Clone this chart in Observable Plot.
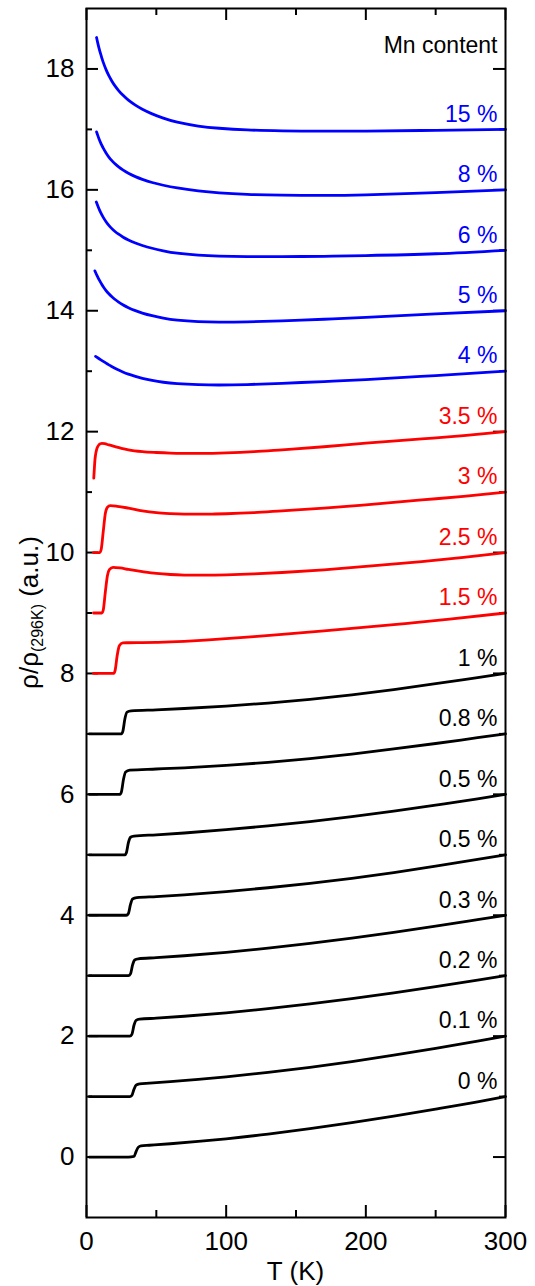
<!DOCTYPE html>
<html>
<head>
<meta charset="utf-8">
<script src="https://cdn.jsdelivr.net/npm/d3@7"></script>
<script src="https://cdn.jsdelivr.net/npm/@observablehq/plot@0.6"></script>
<style>
  html, body { margin: 0; padding: 0; background: #fff; }
  #chart svg { display: block; }
</style>
</head>
<body>
<div id="chart"></div>
<script>
// Normalised resistivity ρ(T)/ρ(296 K) for each Mn content, as [T (K), ρ/ρ296] pairs.
// Curves are stacked with an integer offset so they can be read separately.
const mn0 = [[2,0],[30,0],[34,0.01],[35.5,0.09],[37,0.16],[39,0.185],[45,0.195],[60,0.22],[80,0.258],[100,0.302],[130,0.38],[160,0.47],[190,0.57],[220,0.678],[250,0.792],[280,0.912],[300,1.0]];
const mn01 = [[2,0],[31,0],[32.5,0.02],[34,0.12],[35.5,0.19],[38,0.21],[45,0.222],[60,0.248],[80,0.286],[100,0.328],[130,0.40],[160,0.484],[190,0.58],[220,0.685],[250,0.799],[280,0.919],[300,1.0]];
const mn02 = [[2,0],[31,0],[32.5,0.03],[34,0.18],[35.5,0.26],[38,0.28],[50,0.297],[70,0.329],[100,0.386],[130,0.455],[160,0.533],[190,0.62],[220,0.716],[250,0.818],[280,0.926],[300,1.0]];
const mn03 = [[2,0],[30,0],[31.5,0.03],[33,0.18],[34.5,0.26],[37,0.28],[50,0.298],[70,0.33],[100,0.387],[130,0.456],[160,0.534],[190,0.621],[220,0.717],[250,0.819],[280,0.927],[300,1.0]];
const mn05a = [[2,0],[28.5,0],[30,0.03],[31.5,0.18],[33,0.27],[36,0.29],[50,0.308],[70,0.338],[100,0.392],[130,0.455],[160,0.527],[190,0.611],[220,0.707],[250,0.812],[280,0.923],[300,1.0]];
const mn05b = [[2,0],[27.5,0],[28.5,0.03],[30,0.2],[31.5,0.29],[34,0.31],[50,0.331],[70,0.361],[100,0.415],[130,0.478],[160,0.55],[190,0.631],[220,0.724],[250,0.823],[280,0.925],[300,1.0]];
const mn08 = [[2,0],[24,0],[25,0.04],[26.5,0.25],[28,0.37],[31,0.40],[50,0.419],[70,0.439],[100,0.478],[130,0.529],[160,0.592],[190,0.667],[220,0.751],[250,0.841],[280,0.937],[300,1.0]];
const mn1 = [[2,0],[25,0],[26,0.04],[27.5,0.25],[29,0.36],[32,0.38],[50,0.398],[70,0.42],[100,0.46],[130,0.51],[160,0.572],[190,0.647],[220,0.734],[250,0.83],[280,0.932],[300,1.0]];
const mn15 = [[5,0],[19.5,0],[20.5,0.05],[22,0.3],[23.5,0.46],[26,0.505],[30,0.508],[40,0.511],[50,0.515],[60,0.522],[70,0.532],[85,0.552],[100,0.576],[120,0.61],[140,0.646],[170,0.704],[200,0.765],[230,0.83],[260,0.898],[300,1.0]];
const mn25 = [[5,0],[11,0],[12,0.05],[13.5,0.35],[15,0.62],[16.5,0.72],[19,0.755],[24,0.745],[30,0.72],[40,0.685],[50,0.655],[60,0.637],[70,0.628],[80,0.625],[90,0.627],[100,0.632],[120,0.647],[140,0.67],[170,0.715],[200,0.77],[240,0.85],[270,0.92],[300,1.0]];
const mn3 = [[5,0],[9.5,0],[10.5,0.05],[12,0.35],[13.5,0.65],[15,0.75],[17,0.775],[22,0.765],[30,0.735],[40,0.69],[50,0.66],[60,0.645],[70,0.637],[80,0.635],[90,0.637],[100,0.642],[120,0.66],[140,0.69],[170,0.735],[200,0.79],[240,0.87],[270,0.93],[300,1.0]];
const mn35 = [[5.2,0.23],[5.6,0.38],[6,0.52],[6.5,0.62],[7.2,0.70],[8,0.75],[9,0.785],[10,0.80],[11,0.805],[13,0.80],[16,0.78],[20,0.755],[25,0.725],[30,0.70],[40,0.67],[50,0.655],[60,0.645],[70,0.641],[80,0.64],[90,0.642],[100,0.648],[120,0.668],[140,0.70],[170,0.75],[200,0.81],[240,0.88],[270,0.935],[300,1.0]];
const mn4 = [[6.5,1.245],[8,1.222],[10,1.192],[12,1.162],[14,1.133],[16,1.105],[18,1.078],[20,1.053],[23,1.019],[26,0.988],[30,0.952],[35,0.914],[40,0.882],[47,0.847],[55,0.817],[65,0.795],[80,0.778],[95,0.772],[115,0.779],[140,0.80],[170,0.829],[200,0.862],[250,0.928],[300,1.0]];
const mn5 = [[6,1.66],[7,1.608],[8,1.56],[9,1.515],[10,1.473],[11,1.434],[12,1.398],[14,1.334],[16,1.28],[18,1.234],[20,1.194],[23,1.143],[26,1.10],[30,1.051],[35,1.002],[40,0.962],[47,0.918],[55,0.879],[65,0.846],[80,0.821],[95,0.813],[115,0.817],[140,0.832],[170,0.859],[200,0.892],[250,0.947],[300,1.0]];
const mn6 = [[7,1.80],[8,1.74],[9,1.684],[10,1.633],[11,1.587],[12,1.545],[14,1.473],[16,1.413],[18,1.363],[20,1.32],[23,1.266],[26,1.221],[30,1.171],[35,1.121],[40,1.08],[47,1.034],[55,0.992],[65,0.952],[80,0.919],[95,0.903],[115,0.895],[140,0.895],[170,0.901],[200,0.913],[250,0.943],[300,1.0]];
const mn8 = [[7.2,1.96],[8,1.905],[9,1.842],[10,1.786],[11,1.735],[12,1.689],[14,1.609],[16,1.543],[18,1.487],[20,1.439],[23,1.379],[26,1.33],[30,1.274],[35,1.219],[40,1.174],[47,1.122],[55,1.076],[65,1.031],[80,0.982],[95,0.949],[115,0.925],[140,0.912],[170,0.909],[200,0.918],[250,0.953],[300,1.0]];
const mn15pct = [[7.2,2.52],[8,2.436],[9,2.341],[10,2.256],[11,2.179],[12,2.109],[14,1.989],[16,1.889],[18,1.805],[20,1.733],[23,1.643],[26,1.568],[30,1.484],[35,1.402],[40,1.334],[47,1.257],[55,1.187],[65,1.119],[80,1.056],[95,1.019],[115,0.991],[140,0.976],[170,0.970],[200,0.973],[250,0.985],[300,1.0]];

// Series order (bottom to top), their labels, vertical offsets and colours
const series = [mn0, mn01, mn02, mn03, mn05a, mn05b, mn08, mn1, mn15, mn25, mn3, mn35, mn4, mn5, mn6, mn8, mn15pct];
const labels = ["0 %", "0.1 %", "0.2 %", "0.3 %", "0.5 %", "0.5 %", "0.8 %", "1 %", "1.5 %", "2.5 %", "3 %", "3.5 %", "4 %", "5 %", "6 %", "8 %", "15 %"];
const offsets = [0, 1, 2, 3, 4, 5, 6, 7, 8, 9, 10, 11, 12, 13, 14, 15, 16];
const colors = ["#000000", "#000000", "#000000", "#000000", "#000000", "#000000", "#000000", "#000000",
                "#ff0000", "#ff0000", "#ff0000", "#ff0000",
                "#0000ff", "#0000ff", "#0000ff", "#0000ff", "#0000ff"];

// Axis ticks
const xMajor = [0, 100, 200, 300];
const xMinor = [50, 150, 250];
const yMajor = [0, 2, 4, 6, 8, 10, 12, 14, 16, 18];
const yMinor = [1, 3, 5, 7, 9, 11, 13, 15, 17];

const rows = series.flatMap((s, i) => s.map(([T, r]) => ({T, y: r + offsets[i], i})));
// superconducting samples (step at Tc) vs. samples with a low-temperature upturn (blue)
const stepRows = rows.filter(d => colors[d.i] !== "#0000ff");
const upturnRows = rows.filter(d => colors[d.i] === "#0000ff");
const labelRows = labels.map((text, i) => ({text, y: offsets[i] + 1.25, color: colors[i]}));

const W = 535, H = 1286;
const mL = 86, mR = 30, mT = 8, mB = 69;
const pw = W - mL - mR, ph = H - mT - mB;
const font = "Liberation Sans, Arial, Helvetica, sans-serif";

const chart = Plot.plot({
  width: W,
  height: H,
  marginLeft: mL,
  marginRight: mR,
  marginTop: mT,
  marginBottom: mB,
  style: {fontFamily: font, background: "#fff", color: "#000"},
  x: {domain: [0, 300]},
  y: {domain: [-1, 19]},
  color: {type: "identity"},
  marks: [
    // tick labels
    Plot.axisX(xMajor, {tickSize: 0, tickPadding: 14, fontSize: 26, tickFormat: "d", label: null}),
    Plot.axisY(yMajor, {tickSize: 0, tickPadding: 12, fontSize: 26, tickFormat: "d", label: null}),
    // inward ticks on all four sides
    Plot.tickX(xMajor, {x: d => d, insetTop: ph - 12, strokeWidth: 2}),
    Plot.tickX(xMinor, {x: d => d, insetTop: ph - 7, strokeWidth: 2}),
    Plot.tickX(xMajor, {x: d => d, insetBottom: ph - 12, strokeWidth: 2}),
    Plot.tickX(xMinor, {x: d => d, insetBottom: ph - 7, strokeWidth: 2}),
    Plot.tickY(yMajor, {y: d => d, insetRight: pw - 12, strokeWidth: 2}),
    Plot.tickY(yMinor, {y: d => d, insetRight: pw - 6, strokeWidth: 2}),
    Plot.tickY(yMajor, {y: d => d, insetLeft: pw - 12, strokeWidth: 2}),
    Plot.tickY(yMinor, {y: d => d, insetLeft: pw - 6, strokeWidth: 2}),
    // resistivity curves
    Plot.line(stepRows, {x: "T", y: "y", z: "i", stroke: d => colors[d.i], strokeWidth: 2.8, curve: "monotone-x"}),
    Plot.line(upturnRows, {x: "T", y: "y", z: "i", stroke: d => colors[d.i], strokeWidth: 2.8, curve: "natural"}),
    // composition labels at the right end of each curve
    Plot.text(labelRows, {x: 300, y: "y", text: "text", fill: "color", textAnchor: "end", dx: -8, fontSize: 23}),
    Plot.text(["Mn content"], {x: 300, y: 18.38, text: d => d, textAnchor: "end", dx: -8, fontSize: 23, fill: "#000"}),
    Plot.frame({stroke: "#000", strokeWidth: 2})
  ]
});

document.getElementById("chart").appendChild(chart);

// axis titles
const svg = d3.select(chart);
svg.append("text")
  .attr("x", mL + pw / 2)
  .attr("y", 1280)
  .attr("text-anchor", "middle")
  .style("font-family", font)
  .style("font-size", "26px")
  .attr("fill", "#000")
  .text("T (K)");

const yt = svg.append("text")
  .attr("transform", `translate(38,${mT + ph / 2}) rotate(-90)`)
  .attr("text-anchor", "middle")
  .style("font-family", font)
  .style("font-size", "26px")
  .attr("fill", "#000");
yt.append("tspan").text("ρ/ρ");
yt.append("tspan").attr("dy", 5).style("font-size", "16px").text("(296K)");
yt.append("tspan").attr("dy", -5).text(" (a.u.)");
</script>
</body>
</html>
